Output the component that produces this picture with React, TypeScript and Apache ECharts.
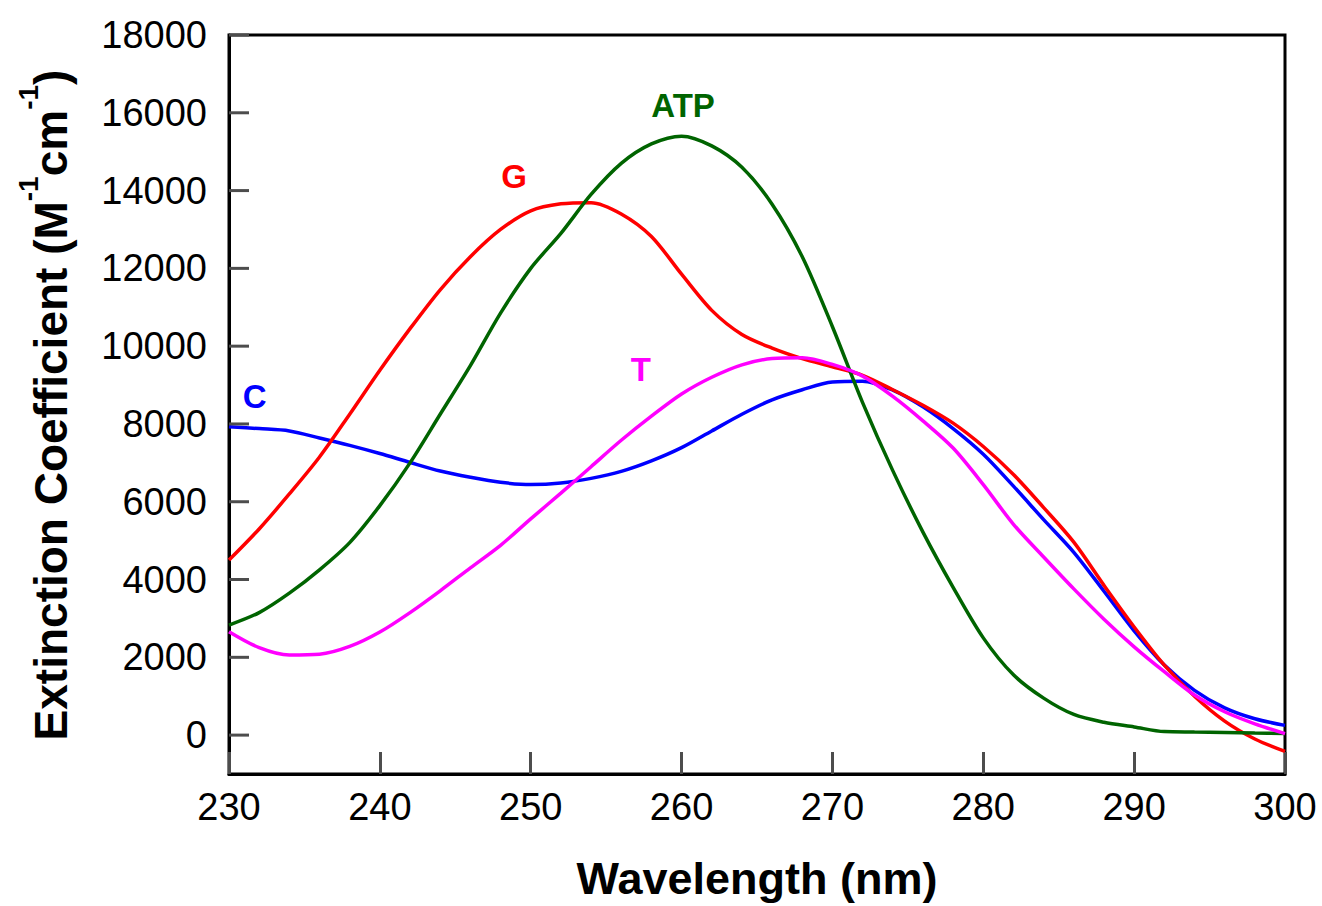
import React, { useEffect, useRef } from "react";
import * as echarts from "echarts";

const wavelengths = [230, 232, 234, 236, 238, 240, 242, 244, 246, 248, 250, 252, 254, 256, 258, 260, 262, 264, 266, 268, 270, 272, 274, 276, 278, 280, 282, 284, 286, 288, 290, 292, 294, 296, 298, 300];

const cValues = [7930, 7880, 7820, 7640, 7450, 7240, 7010, 6790, 6630, 6500, 6440, 6480, 6600, 6780, 7050, 7390, 7820, 8250, 8620, 8880, 9080, 9100, 8870, 8440, 7880, 7220, 6400, 5540, 4700, 3700, 2680, 1800, 1150, 700, 420, 250];

const gValues = [4500, 5300, 6200, 7150, 8250, 9380, 10450, 11450, 12300, 13000, 13480, 13660, 13690, 13400, 12820, 11850, 10920, 10300, 9950, 9680, 9470, 9250, 8880, 8480, 8020, 7420, 6700, 5850, 4960, 3850, 2780, 1800, 1000, 360, -100, -420];

const atpValues = [2830, 3150, 3650, 4250, 4950, 5900, 7000, 8250, 9500, 10850, 12000, 12900, 13900, 14700, 15200, 15400, 15150, 14600, 13650, 12300, 10500, 8550, 6800, 5220, 3800, 2500, 1550, 950, 530, 330, 210, 90, 80, 70, 55, 40];

const tValues = [2660, 2250, 2060, 2080, 2280, 2650, 3150, 3710, 4300, 4880, 5560, 6220, 6900, 7580, 8200, 8770, 9200, 9520, 9680, 9700, 9530, 9230, 8710, 8080, 7380, 6440, 5420, 4580, 3760, 2980, 2270, 1630, 1030, 600, 290, 40];

const yTicks = [0, 2000, 4000, 6000, 8000, 10000, 12000, 14000, 16000, 18000];

const X_MIN = 230;
const X_MAX = 300;
const Y_MIN = -1000;
const Y_MAX = 18000;

const seriesNames = ["C", "G", "ATP", "T"];
const seriesColors = ["#0000ff", "#ff0000", "#006400", "#ff00ff"];
const seriesData = [cValues, gValues, atpValues, tValues];
const labelCoords = [
  [231.7, 8700],
  [248.9, 14360],
  [260.1, 16190],
  [257.3, 9400],
];

const FONT = "'Liberation Sans', Arial, Helvetica, sans-serif";
const TICK_COLOR = "#4d4d4d";

export default function App() {
  const ref = useRef<HTMLDivElement>(null);

  useEffect(() => {
    if (!ref.current) return;
    const chart = echarts.init(ref.current, null, { renderer: "svg" });

    const series: any[] = seriesNames.map((name, i) => ({
      name,
      type: "line",
      data: wavelengths.map((w, j) => [w, seriesData[i][j]]),
      showSymbol: false,
      smooth: 0.3,
      lineStyle: { color: seriesColors[i], width: 3.5 },
      itemStyle: { color: seriesColors[i] },
      z: 3,
      markPoint: {
        symbol: "circle",
        symbolSize: 0,
        silent: true,
        data: [
          {
            coord: labelCoords[i],
            label: {
              show: true,
              position: "inside",
              formatter: name,
              color: seriesColors[i],
              fontSize: 33,
              fontWeight: "bold",
              fontFamily: FONT,
            },
          },
        ],
      },
    }));

    const yTitle = {
      type: "text",
      x: 44,
      y: 405,
      rotation: Math.PI / 2,
      style: {
        text: "{a|Extinction Coefficient (M}{s|-1}{a|cm}{s|-1}{a|)}",
        align: "center",
        verticalAlign: "middle",
        fill: "#000",
        rich: {
          a: {
            fontFamily: FONT,
            fontSize: 46,
            fontWeight: "bold",
            fill: "#000",
            verticalAlign: "bottom",
            lineHeight: 60,
          },
          s: {
            fontFamily: FONT,
            fontSize: 28,
            fontWeight: "bold",
            fill: "#000",
            verticalAlign: "top",
            lineHeight: 60,
          },
        },
      },
    };

    chart.setOption({
      animation: false,
      backgroundColor: "#ffffff",
      grid: {
        left: 229,
        top: 35,
        right: 37,
        bottom: 130,
        show: true,
        borderColor: "#000",
        borderWidth: 3,
        backgroundColor: "transparent",
        containLabel: false,
      },
      xAxis: {
        type: "value",
        min: X_MIN,
        max: X_MAX,
        interval: 10,
        name: "Wavelength (nm)",
        nameLocation: "middle",
        nameGap: 82,
        nameTextStyle: {
          fontFamily: FONT,
          fontSize: 45,
          fontWeight: "bold",
          color: "#000",
        },
        axisLine: { show: true, onZero: false, lineStyle: { color: "#000", width: 3 } },
        axisTick: { show: true, inside: true, length: 22, lineStyle: { color: TICK_COLOR, width: 3 } },
        axisLabel: {
          show: true,
          margin: 14,
          fontFamily: FONT,
          fontSize: 38,
          color: "#000",
          formatter: (v: number) => String(v),
        },
        splitLine: { show: false },
      },
      yAxis: {
        type: "value",
        min: Y_MIN,
        max: Y_MAX,
        axisLine: { show: true, onZero: false, lineStyle: { color: "#000", width: 3 } },
        axisTick: { show: false },
        axisLabel: {
          show: true,
          margin: 22,
          customValues: yTicks,
          fontFamily: FONT,
          fontSize: 38,
          color: "#000",
          formatter: (v: number) => String(v),
        },
        splitLine: { show: false },
      },
      graphic: [yTitle],
      series,
    });

    // inward ticks of the left axis at the labelled values, placed by the y scale
    const tickEls: any[] = yTicks.map((v) => {
      const p = chart.convertToPixel({ gridIndex: 0 }, [X_MIN, v]) as any;
      return {
        type: "line",
        z: 100,
        silent: true,
        shape: { x1: p[0], y1: p[1], x2: p[0] + 20, y2: p[1] },
        style: { stroke: TICK_COLOR, lineWidth: 3 },
      };
    });
    chart.setOption({ graphic: [yTitle, ...tickEls] }, { replaceMerge: ["graphic"] });

    return () => chart.dispose();
  }, []);

  return (
    <div
      ref={ref}
      style={{ position: "fixed", left: 0, top: 0, width: 1322, height: 906, background: "#fff" }}
    />
  );
}
